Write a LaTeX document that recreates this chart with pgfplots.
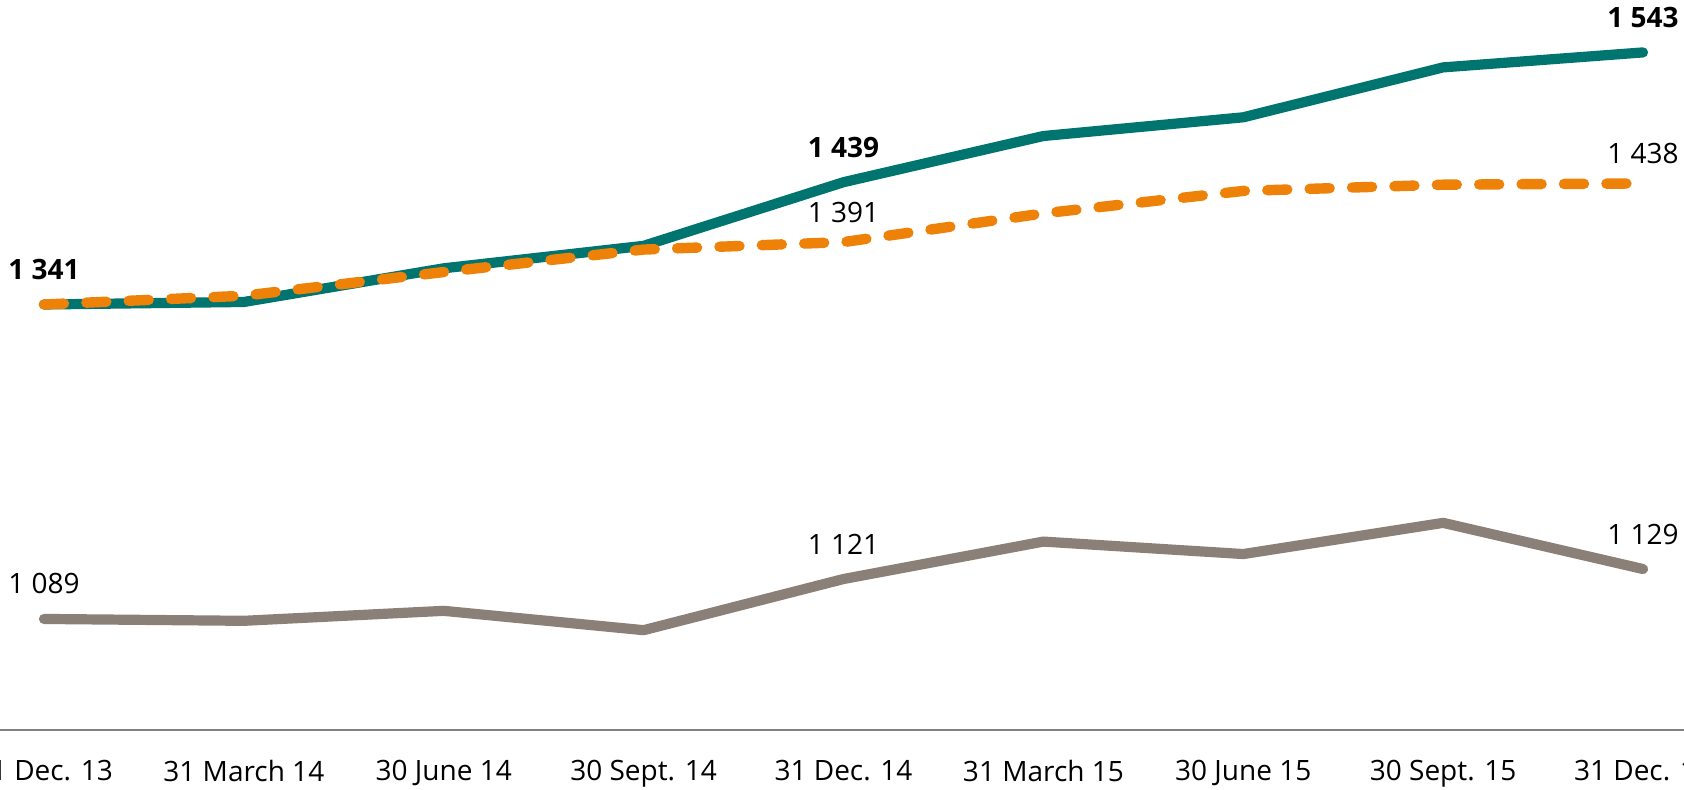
\documentclass[border=0pt]{standalone}
\usepackage{fontspec}
\setmainfont{Open Sans}
\usepackage{pgfplots}
\pgfplotsset{compat=1.18}
\definecolor{tealc}{HTML}{007570}
\definecolor{orngc}{HTML}{EE8208}
\definecolor{grayc}{HTML}{8B8078}
\begin{document}
\begin{tikzpicture}
\begin{axis}[
  scale only axis, width=842pt, height=365pt,
  xmin=-0.22, xmax=8.205, ymin=1000, ymax=1585,
  axis x line=bottom, axis y line=none,
  axis line style={-, draw=black!50, line width=0.75pt},
  xtick={0,...,8},
  xticklabels={31 Dec. 13, 31 March 14, 30 June 14, 30 Sept. 14, 31 Dec. 14, 31 March 15, 30 June 15, 30 Sept. 15, 31 Dec. 15},
  major tick length=0pt,
  xticklabel style={font=\fontsize{14}{16}\selectfont, yshift=-11.8pt},
  clip=false,
  /pgf/number format/assume math mode=true,
  /pgf/number format/1000 sep={\ },
]
\addplot[tealc, line width=5.1pt, line join=round, line cap=round, mark=none] coordinates {
(0,1341) (1,1343) (2,1370) (3,1388) (4,1439) (5,1476) (6,1491) (7,1531) (8,1543)};
\addplot[orngc, line width=5.2pt, line cap=round, line join=round, dash pattern=on 10pt off 11.2pt, mark=none] coordinates {
(0,1341) (1,1348) (2,1367) (3,1385) (4,1391) (5,1414) (6,1432) (7,1437) (8,1438)};
\addplot[grayc, line width=5.1pt, line join=round, line cap=round, mark=none] coordinates {
(0,1089) (1,1087.5) (2,1095.5) (3,1080) (4,1121) (5,1151) (6,1141) (7,1166) (8,1129)};
% labels
\addplot[draw=none, mark=none, nodes near coords, point meta=y,
  nodes near coords style={font=\fontsize{14}{16}\selectfont\bfseries, anchor=center, yshift=17.5pt, text=black}]
  coordinates {(0,1341) (4,1439) (8,1543)};
\addplot[draw=none, mark=none, nodes near coords, point meta=y,
  nodes near coords style={font=\fontsize{14}{16}\selectfont, anchor=center, yshift=15pt, text=black}]
  coordinates {(4,1391) (8,1438)};
\addplot[draw=none, mark=none, nodes near coords, point meta=y,
  nodes near coords style={font=\fontsize{14}{16}\selectfont, anchor=center, yshift=17.5pt, text=black}]
  coordinates {(0,1089) (4,1121) (8,1129)};
\end{axis}
\pgfresetboundingbox
\path[use as bounding box] ([yshift=-29.5pt]current axis.south west) rectangle (current axis.north east);
\end{tikzpicture}
\end{document}
